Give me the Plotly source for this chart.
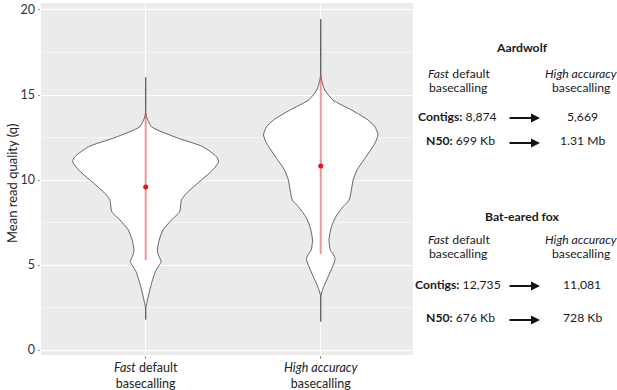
import plotly.graph_objects as go

# ---------------- data ----------------
categories = ["Fast default basecalling", "High accuracy basecalling"]
cat_labels = ["<i>Fast</i> default<br>basecalling", "<i>High accuracy</i><br>basecalling"]

# violin outlines: quality value (q) and half-width (category units)
fast_q = [1.80, 2.55, 2.94, 3.53, 4.02, 4.61, 5.00, 5.20, 5.60, 5.88, 6.47, 7.06, 7.65, 8.14,
          8.82, 9.22, 10.0, 10.59, 11.08, 11.37, 11.96, 12.5, 13.14, 13.8, 16.04]
fast_w = [0.0, 0.002, 0.010, 0.023, 0.036, 0.055, 0.078, 0.088, 0.072, 0.067, 0.077, 0.099, 0.147, 0.194,
          0.204, 0.233, 0.318, 0.383, 0.417, 0.404, 0.326, 0.175, 0.033, 0.003, 0.0]

hac_q = [1.67, 3.24, 3.73, 4.31, 4.90, 5.33, 5.59, 5.88, 6.47, 7.25, 7.84, 8.43, 8.82, 9.41,
         10.0, 10.59, 11.18, 12.16, 12.65, 13.14, 13.53, 14.12, 14.70, 15.29, 15.98, 19.47]
hac_w = [0.0, 0.002, 0.017, 0.042, 0.067, 0.082, 0.074, 0.055, 0.047, 0.061, 0.086, 0.127, 0.162, 0.175,
         0.185, 0.207, 0.246, 0.309, 0.327, 0.309, 0.270, 0.175, 0.070, 0.023, 0.003, 0.0]

# summary (red): mean and range bar
means = [9.59, 10.82]
bar_low = [5.30, 5.65]
bar_high = [13.9, 16.07]

y_ticks = [0, 5, 10, 15, 20]

# assembly stats
species = ["Aardwolf", "Bat-eared fox"]
contigs_fast = ["8,874", "12,735"]
contigs_hac = ["5,669", "11,081"]
n50_fast = ["699 Kb", "676 Kb"]
n50_hac = ["1.31 Mb", "728 Kb"]

# ---------------- figure ----------------
FONT = "Lato"
W, H = 617, 390
ML, MR, MT, MB = 41, 204, 3, 35
PW = W - ML - MR
PH = H - MT - MB


def px(x):
    return (x - ML) / PW


def py(y):
    return (H - MB - y) / PH


fig = go.Figure()

for i, (qs, ws) in enumerate([(fast_q, fast_w), (hac_q, hac_w)]):
    c = i + 1
    xs = [c - w for w in ws] + [c + w for w in ws[::-1]]
    ys = list(qs) + list(qs[::-1])
    fig.add_trace(go.Scatter(x=xs, y=ys, mode="lines", fill="toself",
                             fillcolor="white", line=dict(color="#555555", width=0.9, shape="spline", smoothing=0.6),
                             hoverinfo="skip", showlegend=False))

for i in range(2):
    c = i + 1
    fig.add_trace(go.Scatter(x=[c, c], y=[bar_low[i], bar_high[i]], mode="lines",
                             line=dict(color="rgba(240,60,60,0.55)", width=2),
                             hoverinfo="skip", showlegend=False))
fig.add_trace(go.Scatter(x=[1, 2], y=means, mode="markers",
                         marker=dict(color="#e8141b", size=5), showlegend=False))

fig.update_layout(
    width=W, height=H,
    margin=dict(l=ML, r=MR, t=MT, b=MB, pad=0, autoexpand=False),
    paper_bgcolor="white", plot_bgcolor="#EBEBEB",
    font=dict(family=FONT, color="#222"),
    xaxis=dict(range=[0.402, 2.527], tickvals=[1, 2], ticktext=cat_labels, automargin=False,
               showgrid=True, gridcolor="white", gridwidth=1.1, zeroline=False,
               ticks="outside", ticklen=2.5, tickcolor="#999", tickwidth=0.8,
               ticklabelstandoff=-2,
               tickfont=dict(family=FONT, size=12.5, color="#222"), showline=False),
    yaxis=dict(range=[-0.29, 20.41], tickvals=y_ticks, automargin=False,
               showgrid=True, gridcolor="white", gridwidth=1.1, zeroline=False,
               ticks="outside", ticklen=2.5, tickcolor="#999", tickwidth=0.8,
               minor=dict(dtick=2.5, tick0=0, showgrid=True, gridcolor="#F5F5F5", gridwidth=0.6, ticks=""),
               tickfont=dict(family=FONT, size=12.5, color="#333"), showline=False),
)

anns = []
anns.append(dict(x=px(12), y=py(184), xref="paper", yref="paper", text="Mean read quality (q)",
                 textangle=-90, showarrow=False, font=dict(size=13, color="#222", family=FONT),
                 xanchor="center", yanchor="middle"))

for k in range(2):
    top = 47 if k == 0 else 216
    row_h1 = top + 26 if k == 0 else top + 23
    row_h2 = row_h1 + 14
    row_c = top + 69 if k == 0 else top + 68
    row_n = top + 93 if k == 0 else top + 101
    anns.append(dict(x=px(522), y=py(top), text="<b>%s</b>" % species[k]))
    anns.append(dict(x=px(459), y=py(row_h1), text="<i>Fast</i> default"))
    anns.append(dict(x=px(459), y=py(row_h2), text="basecalling"))
    anns.append(dict(x=px(581), y=py(row_h1), text="<i>High accuracy</i>"))
    anns.append(dict(x=px(581), y=py(row_h2), text="basecalling"))
    anns.append(dict(x=px(458), y=py(row_c), text="<b>Contigs:</b> %s" % contigs_fast[k]))
    anns.append(dict(x=px(582), y=py(row_c), text=contigs_hac[k]))
    anns.append(dict(x=px(460), y=py(row_n), text="<b>N50:</b> %s" % n50_fast[k]))
    anns.append(dict(x=px(582), y=py(row_n), text=n50_hac[k]))
    for yy in [row_c + 2, row_n + 3]:
        anns.append(dict(x=px(540), y=py(yy), ax=-32, ay=0, showarrow=True, arrowhead=2,
                         arrowsize=1, arrowwidth=1.8, arrowcolor="#111", text="",
                         axref="pixel", ayref="pixel"))

for a in anns:
    a.setdefault("xref", "paper")
    a.setdefault("yref", "paper")
    a.setdefault("showarrow", False)
    a.setdefault("font", dict(size=12.2, color="#1a1a1a", family=FONT))
    a.setdefault("xanchor", "center")
    a.setdefault("yanchor", "middle")

fig.update_layout(annotations=anns)
fig.write_html("out.html", config={"displayModeBar": False},
               post_script="document.body.style.margin='0';document.body.style.padding='0';")
